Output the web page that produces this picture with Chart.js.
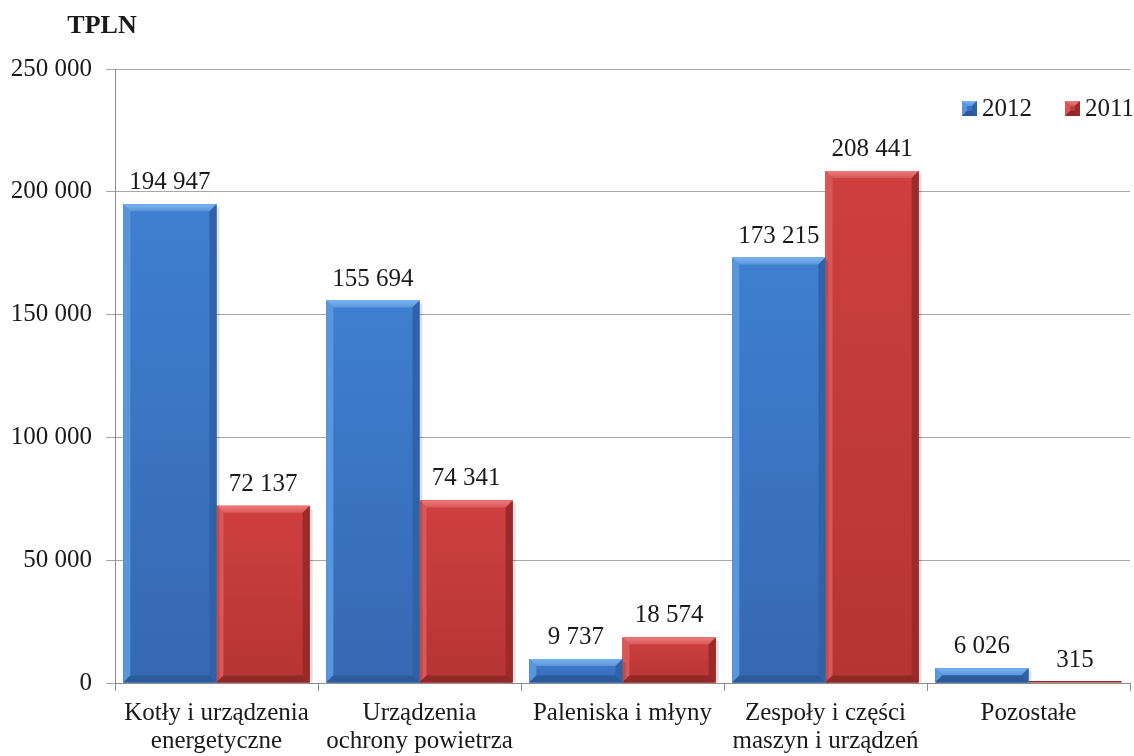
<!DOCTYPE html>
<html>
<head>
<meta charset="utf-8">
<script src="https://cdn.jsdelivr.net/npm/chart.js@4.4.1/dist/chart.umd.min.js"></script>
<style>
  html, body { margin: 0; padding: 0; background: #ffffff; }
  #wrap { width: 1134px; height: 756px; position: relative; }
</style>
</head>
<body>
<div id="wrap"><canvas id="c" width="1134" height="756"></canvas></div>
<script>
// Category names (multi-line where wrapped)
const categories = [
  ["Kotły i urządzenia", "energetyczne"],
  ["Urządzenia", "ochrony powietrza"],
  "Paleniska i młyny",
  ["Zespoły i części", "maszyn i urządzeń"],
  "Pozostałe"
];
const seriesNames = ["2012", "2011"];
const values2012 = [194947, 155694, 9737, 173215, 6026];
const values2011 = [72137, 74341, 18574, 208441, 315];
const yTicks = [0, 50000, 100000, 150000, 200000, 250000];
const unitLabel = "TPLN";

const FONT = "'Liberation Serif', 'DejaVu Serif', serif";
const TEXT = "#1a1a1a";

// face / light / dark tones for the bevelled bars
const palette = [
  { face: "#3f7fd0", top: "#7ab4f0", left: "#5a96dc", right: "#2f63a8", bottom: "#2c5b9c", faceLow: "#3668b2" },
  { face: "#cf3f3f", top: "#ee7a7a", left: "#d85858", right: "#9c2a2a", bottom: "#922828", faceLow: "#b53535" }
];

function fmt(v) {
  return String(v).replace(/\B(?=(\d{3})+(?!\d))/g, " ");
}

// draws a bevelled box: light top, shaded sides, dark bottom
function bevelBox(ctx, l, t, r, b, bv, p) {
  const h = b - t;
  const g = ctx.createLinearGradient(0, t, 0, b);
  g.addColorStop(0, p.face);
  g.addColorStop(1, p.faceLow);
  ctx.fillStyle = g;
  ctx.fillRect(l, t, r - l, h);
  const gt = ctx.createLinearGradient(0, t, 0, t + bv);
  gt.addColorStop(0, p.top);
  gt.addColorStop(1, p.left);
  ctx.fillStyle = gt;
  ctx.beginPath();
  ctx.moveTo(l, t); ctx.lineTo(r, t); ctx.lineTo(r - bv, t + bv); ctx.lineTo(l + bv, t + bv); ctx.closePath();
  ctx.fill();
  ctx.fillStyle = p.left;
  ctx.beginPath();
  ctx.moveTo(l, t); ctx.lineTo(l + bv, t + bv); ctx.lineTo(l + bv, b - bv); ctx.lineTo(l, b); ctx.closePath();
  ctx.fill();
  ctx.fillStyle = p.right;
  ctx.beginPath();
  ctx.moveTo(r, t); ctx.lineTo(r, b); ctx.lineTo(r - bv, b - bv); ctx.lineTo(r - bv, t + bv); ctx.closePath();
  ctx.fill();
  ctx.fillStyle = p.bottom;
  ctx.beginPath();
  ctx.moveTo(l, b); ctx.lineTo(r, b); ctx.lineTo(r - bv, b - bv); ctx.lineTo(l + bv, b - bv); ctx.closePath();
  ctx.fill();
}

const bevelPlugin = {
  id: "bevel",
  afterDatasetDraw(chart, args) {
    const ctx = chart.ctx;
    const meta = args.meta;
    const p = palette[args.index];
    meta.data.forEach((bar) => {
      const { x, y, base, width } = bar.getProps(["x", "y", "base", "width"], true);
      const l = x - width / 2, r = x + width / 2, t = Math.min(y, base), b = Math.max(y, base);
      const h = b - t;
      ctx.save();
      if (h < 1.5) {
        ctx.fillStyle = p.right;
        ctx.fillRect(l, b - 1.5, width, 1.5);
      } else {
        ctx.fillStyle = "rgba(0,0,0,0.12)";
        ctx.fillRect(r, t + 3, 3, h - 3);
        bevelBox(ctx, l, t, r, b, Math.min(7, h / 2), p);
      }
      ctx.restore();
    });
  }
};

const labelsPlugin = {
  id: "valueLabels",
  afterDatasetsDraw(chart) {
    const ctx = chart.ctx;
    ctx.save();
    ctx.font = "25px " + FONT;
    ctx.fillStyle = TEXT;
    ctx.textAlign = "center";
    ctx.textBaseline = "alphabetic";
    chart.data.datasets.forEach((ds, di) => {
      chart.getDatasetMeta(di).data.forEach((bar, i) => {
        ctx.fillText(fmt(ds.data[i]), bar.x, bar.y - 15);
      });
    });
    // unit caption
    ctx.font = "bold 26px " + FONT;
    ctx.fillText(unitLabel, 102, 33);
    // legend
    ctx.font = "25px " + FONT;
    ctx.textAlign = "left";
    ctx.textBaseline = "alphabetic";
    const lx = [962, 1065];
    seriesNames.forEach((name, i) => {
      const p = palette[i];
      const sx = lx[i], s = 15, sy = 101;
      bevelBox(ctx, sx, sy, sx + s, sy + s, 5, p);
      ctx.fillStyle = TEXT;
      ctx.fillText(name, sx + s + 5, 116);
    });
    ctx.restore();
  }
};

new Chart(document.getElementById("c"), {
  type: "bar",
  data: {
    labels: categories,
    datasets: [
      { label: seriesNames[0], data: values2012, backgroundColor: palette[0].face, borderWidth: 0 },
      { label: seriesNames[1], data: values2011, backgroundColor: palette[1].face, borderWidth: 0 }
    ]
  },
  options: {
    responsive: false,
    animation: false,
    layout: { padding: { left: 0, right: 4, top: 69, bottom: 0 } },
    datasets: { bar: { categoryPercentage: 0.918, barPercentage: 1.0 } },
    plugins: { legend: { display: false }, tooltip: { enabled: false } },
    scales: {
      x: {
        grid: { offset: true, drawOnChartArea: false, color: "#8c8c8c", tickLength: 8, lineWidth: 1 },
        border: { color: "#8c8c8c", width: 1 },
        ticks: { color: TEXT, font: { family: FONT, size: 25, lineHeight: 1.13 }, padding: 8, maxRotation: 0, autoSkip: false },
        afterFit(s) { s.height = 73; }
      },
      y: {
        min: 0, max: 250000,
        afterBuildTicks(s) { s.ticks = yTicks.map(v => ({ value: v })); },
        grid: { color: "#a6a6a6", tickLength: 9, lineWidth: 1 },
        border: { color: "#8c8c8c", width: 1 },
        ticks: { color: TEXT, font: { family: FONT, size: 25 }, padding: 14, callback: (v) => fmt(v) },
        afterFit(s) { s.width = 115; }
      }
    }
  },
  plugins: [bevelPlugin, labelsPlugin]
});
</script>
</body>
</html>
